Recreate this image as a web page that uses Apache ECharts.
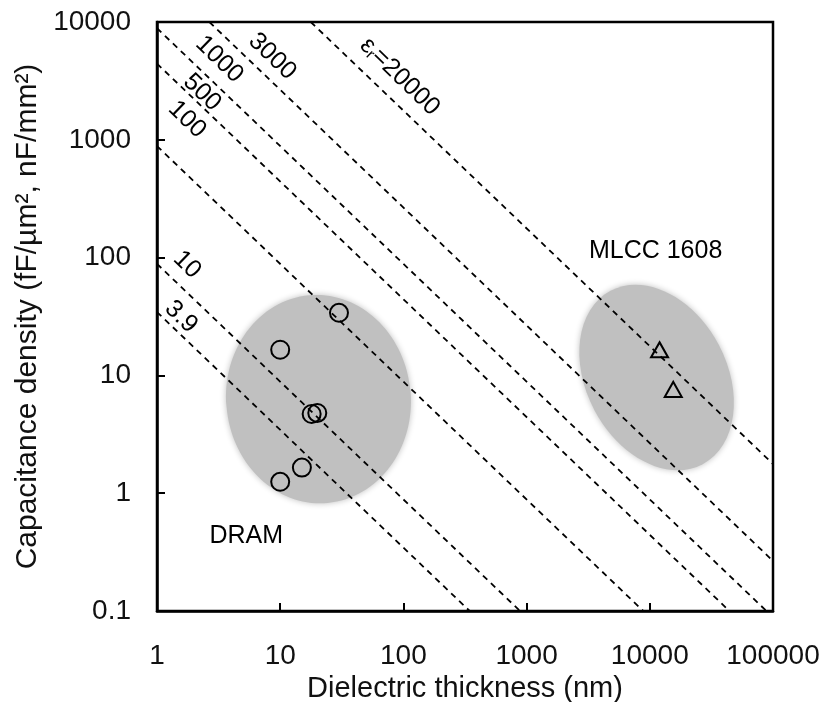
<!DOCTYPE html>
<html>
<head>
<meta charset="utf-8">
<script src="https://cdn.jsdelivr.net/npm/echarts@6/dist/echarts.min.js"></script>
<style>
  html, body { margin: 0; background: #fff; }
  #chart { width: 828px; height: 702px; }
</style>
</head>
<body>
<div id="chart"></div>
<script>
// measured devices: thickness (nm), capacitance density (fF/um2)
var dramPoints = [[30, 34], [10, 16.5], [20, 4.8], [18, 4.7], [15, 1.65], [10, 1.25]];
var mlccPoints = [[12000, 16.5], [15500, 7.6]];

// constant permittivity lines, end points where they meet the frame
var permNames = ['3.9', '10', '100', '500', '1000', '3000', '20000'];
var permLines = [
    [[1, 34.5], [345, 0.1]],
    [[1, 88.5], [885, 0.1]],
    [[1, 885], [8850, 0.1]],
    [[1, 4430], [44300, 0.1]],
    [[1, 8850], [88500, 0.1]],
    [[2.66, 10000], [100000, 0.266]],
    [[17.7, 10000], [100000, 1.77]]
];
// where each line's label sits
var permLabelAt = [[1.57, 31.4], [1.75, 86.9], [1.75, 1485], [2.32, 2519], [3.2, 4808], [8.64, 5096], [93.5, 3445]];

// shaded regions: [xLo, xHi, yLo, yHi] of the (unrotated) ellipse
var regionNames = ['DRAM', 'MLCC 1608'];
var regionBoxes = [[3.65, 115, 0.82, 48.3], [3055, 42200, 1.41, 65.4]];
var regionLabelAt = [[5.3, 0.43], [11150, 114]];

var xTicks = [1, 10, 100, 1000, 10000, 100000];
var yTicks = [0.1, 1, 10, 100, 1000, 10000];

var FONT = 'Liberation Sans, Arial, sans-serif';
var regionTilt = [5, 28];   // degrees, counter-clockwise

function plainNumber(v) {
    return String(+Number(v).toPrecision(6));
}

var series = [];

series.push({
    type: 'custom',
    silent: true,
    z: 1,
    renderItem: function (params, api) {
        var lo = api.coord([api.value(0), api.value(2)]);
        var hi = api.coord([api.value(1), api.value(3)]);
        return {
            type: 'ellipse',
            x: (lo[0] + hi[0]) / 2,
            y: (lo[1] + hi[1]) / 2,
            rotation: regionTilt[params.dataIndex] * Math.PI / 180,
            shape: { cx: 0, cy: 0, rx: Math.abs(hi[0] - lo[0]) / 2, ry: Math.abs(hi[1] - lo[1]) / 2 },
            style: { fill: '#c0c0c0', shadowBlur: 6, shadowColor: '#c0c0c0' }
        };
    },
    encode: { x: [0, 1], y: [2, 3] },
    data: regionBoxes
});

permLines.forEach(function (pts, i) {
    series.push({
        name: permNames[i],
        type: 'line',
        silent: true,
        z: 3,
        symbol: 'none',
        lineStyle: { color: '#000', width: 1.8, type: [6, 5] },
        data: pts
    });
});

series.push({
    type: 'scatter',
    silent: true,
    z: 4,
    symbolSize: 0,
    itemStyle: { opacity: 1 },
    label: {
        show: true,
        position: 'inside',
        rotate: -44,
        fontSize: 25,
        fontFamily: FONT,
        color: '#000',
        formatter: function (p) {
            var n = permNames[p.dataIndex];
            return p.dataIndex === permNames.length - 1 ? '{t|ε}{s|r}{t|=' + n + '}' : n;
        },
        rich: {
            t: { fontSize: 25, fontFamily: FONT, color: '#000' },
            s: { fontSize: 15, fontFamily: FONT, color: '#000', verticalAlign: 'bottom', lineHeight: 15 }
        }
    },
    data: permLabelAt
});

series.push({
    type: 'scatter',
    silent: true,
    z: 4,
    symbolSize: 0,
    itemStyle: { opacity: 1 },
    label: {
        show: true,
        position: 'inside',
        fontSize: 25,
        fontFamily: FONT,
        color: '#000',
        formatter: function (p) { return regionNames[p.dataIndex]; }
    },
    data: regionLabelAt
});

series.push({
    name: 'DRAM',
    type: 'scatter',
    z: 5,
    symbol: 'circle',
    symbolSize: 18,
    itemStyle: { color: 'rgba(0,0,0,0)', borderColor: '#000', borderWidth: 2, opacity: 1 },
    data: dramPoints
});

series.push({
    name: 'MLCC',
    type: 'scatter',
    z: 5,
    symbol: 'triangle',
    symbolSize: [17, 15],
    itemStyle: { color: 'rgba(0,0,0,0)', borderColor: '#000', borderWidth: 2, opacity: 1 },
    data: mlccPoints
});

var chart = echarts.init(document.getElementById('chart'));
chart.setOption({
    animation: false,
    backgroundColor: '#fff',
    grid: {
        left: 157, right: 55, top: 22, bottom: 91,
        outerBoundsMode: 'none',
        show: true, borderColor: '#000', borderWidth: 2.5, backgroundColor: 'transparent'
    },
    xAxis: {
        type: 'log',
        logBase: 10,
        min: xTicks[0],
        max: xTicks[xTicks.length - 1],
        name: 'Dielectric thickness (nm)',
        nameLocation: 'middle',
        nameGap: 62,
        nameTextStyle: { fontSize: 29, fontFamily: FONT, color: '#111' },
        axisLine: { lineStyle: { color: '#000', width: 2.5 } },
        axisTick: { inside: true, length: 8, lineStyle: { color: '#000', width: 2 } },
        axisLabel: { fontSize: 28, fontFamily: FONT, color: '#111', margin: 31, formatter: plainNumber },
        splitLine: { show: false }
    },
    yAxis: {
        type: 'log',
        logBase: 10,
        min: yTicks[0],
        max: yTicks[yTicks.length - 1],
        name: 'Capacitance density (fF/µm², nF/mm²)',
        nameLocation: 'middle',
        nameGap: 102,
        nameTextStyle: { fontSize: 30, fontFamily: FONT, color: '#111' },
        axisLine: { lineStyle: { color: '#000', width: 2.5 } },
        axisTick: { inside: true, length: 8, lineStyle: { color: '#000', width: 2 } },
        axisLabel: { fontSize: 28, fontFamily: FONT, color: '#111', margin: 26, formatter: plainNumber },
        splitLine: { show: false }
    },
    series: series
});
</script>
</body>
</html>
